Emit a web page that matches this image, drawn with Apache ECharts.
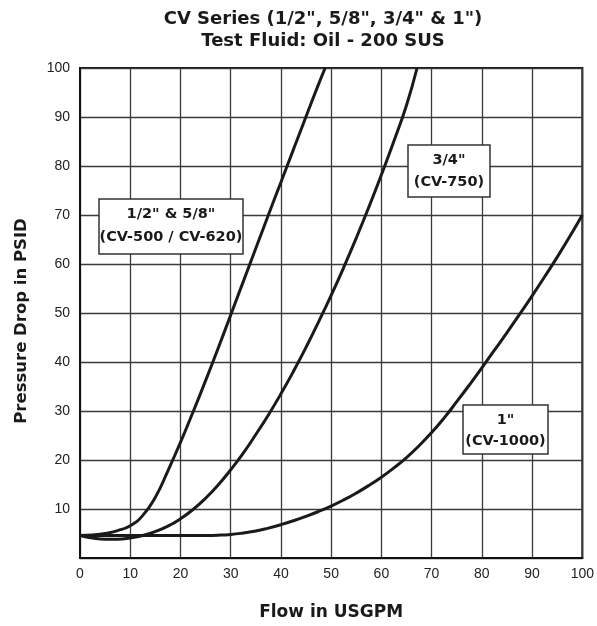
<!DOCTYPE html>
<html>
<head>
<meta charset="utf-8">
<script src="https://cdn.jsdelivr.net/npm/echarts@6/dist/echarts.min.js"></script>
<style>html,body{margin:0;padding:0;background:#fff}#c{width:597px;height:626px}</style>
</head>
<body>
<div id="c"></div>
<script>
// Flow (USGPM) and pressure drop (PSID)
const cv500Flow = [0, 2.5, 5, 7.5, 10, 12.5, 15, 17.5, 20, 22.5, 25, 27.5, 30, 32.5, 35, 37.5, 40, 42.5, 45, 47.5, 48.8];
const cv500Psid = [4.6, 4.7, 5.0, 5.6, 6.6, 8.7, 12.4, 17.8, 23.6, 29.8, 36.2, 42.8, 49.6, 56.4, 63.2, 70.0, 76.7, 83.4, 90.1, 96.7, 100];

const cv750Flow = [0, 2.5, 5, 7.5, 10, 12.5, 15, 17.5, 20, 22.5, 25, 27.5, 30, 32.5, 35, 37.5, 40, 42.5, 45, 47.5, 50, 52.5, 55, 57.5, 60, 62.5, 65, 67.1];
const cv750Psid = [4.6, 4.1, 3.85, 3.85, 4.1, 4.6, 5.4, 6.5, 8.0, 9.9, 12.2, 14.9, 18.0, 21.4, 25.2, 29.2, 33.5, 38.1, 43.0, 48.2, 53.6, 59.3, 65.3, 71.6, 78.2, 85.1, 92.4, 100];

const cv1000Flow = [0, 5, 10, 15, 20, 25, 27.5, 30, 32.5, 35, 37.5, 40, 42.5, 45, 47.5, 50, 52.5, 55, 57.5, 60, 62.5, 65, 67.5, 70, 72.5, 75, 77.5, 80, 82.5, 85, 87.5, 90, 92.5, 95, 97.5, 100];
const cv1000Psid = [4.6, 4.6, 4.6, 4.6, 4.6, 4.6, 4.65, 4.8, 5.1, 5.5, 6.1, 6.8, 7.6, 8.5, 9.5, 10.6, 11.85, 13.25, 14.8, 16.5, 18.4, 20.5, 22.9, 25.6, 28.6, 31.9, 35.3, 38.8, 42.4, 46.0, 49.7, 53.5, 57.4, 61.4, 65.6, 70];

const titleLines = ['CV Series (1/2", 5/8", 3/4" & 1")', 'Test Fluid: Oil - 200 SUS'];
const xName = 'Flow in USGPM';
const yName = 'Pressure Drop in PSID';
const labels = [
  ['1/2" & 5/8"', '(CV-500 / CV-620)'],
  ['3/4"', '(CV-750)'],
  ['1"', '(CV-1000)']
];

function pairs(xs, ys) { return xs.map((x, i) => [x, ys[i]]); }

const chart = echarts.init(document.getElementById('c'), null, {renderer: 'canvas'});
const lineSeries = (name, xs, ys) => ({
  name, type: 'line', data: pairs(xs, ys), showSymbol: false, symbol: 'none',
  smooth: 0.5, z: 3,
  lineStyle: {color: '#1a1a1a', width: 3}
});
const boldFam = '"DejaVu Sans", "Liberation Sans", Arial, sans-serif';
const labelFont = 'bold 14.5px ' + boldFam;
function box(x, y, w, h, lines, l1, l2) {
  return [
    {type: 'rect', shape: {x, y, width: w, height: h}, style: {fill: '#fff', stroke: '#333', lineWidth: 1.5}, z: 10},
    {type: 'text', x: x + w / 2, y: l1, style: {text: lines[0], font: labelFont, fill: '#1a1a1a', align: 'center', verticalAlign: 'middle'}, z: 11},
    {type: 'text', x: x + w / 2, y: l2, style: {text: lines[1], font: labelFont, fill: '#1a1a1a', align: 'center', verticalAlign: 'middle'}, z: 11}
  ];
}

chart.setOption({
  animation: false,
  backgroundColor: '#fff',
  grid: {left: 80, right: 13, top: 68, bottom: 65, show: true, borderColor: '#111', borderWidth: 2},
  xAxis: {
    type: 'value', min: 0, max: 100, interval: 10,
    name: xName, nameLocation: 'middle', nameGap: 46,
    nameTextStyle: {fontFamily: boldFam, fontWeight: 'bold', fontSize: 17, color: '#1a1a1a'},
    axisLine: {lineStyle: {color: '#111', width: 2}},
    axisTick: {show: false},
    axisLabel: {fontFamily: '"Liberation Sans Narrow", "Liberation Sans", Arial', fontSize: 14, color: '#222', margin: 9},
    splitLine: {show: true, lineStyle: {color: '#3a3a3a', width: 1.3}}
  },
  yAxis: {
    type: 'value', min: 0, max: 100, interval: 10,
    name: yName, nameLocation: 'middle', nameGap: 50, nameRotate: 90,
    nameTextStyle: {fontFamily: boldFam, fontWeight: 'bold', fontSize: 16.5, color: '#1a1a1a', padding: [0, 16, 0, 0]},
    axisLine: {lineStyle: {color: '#111', width: 2}},
    axisTick: {show: false},
    axisLabel: {fontFamily: '"Liberation Sans Narrow", "Liberation Sans", Arial', fontSize: 14, color: '#222', margin: 10,
      formatter: v => (v === 0 ? '' : String(v))},
    splitLine: {show: true, lineStyle: {color: '#3a3a3a', width: 1.3}}
  },
  title: {
    text: titleLines.join('\n'), left: 318, top: 3, textAlign: 'center',
    textStyle: {fontFamily: boldFam, fontWeight: 'bold', fontSize: 18, lineHeight: 22, color: '#1a1a1a'}
  },
  series: [
    lineSeries('CV-500 / CV-620', cv500Flow, cv500Psid),
    lineSeries('CV-750', cv750Flow, cv750Psid),
    lineSeries('CV-1000', cv1000Flow, cv1000Psid)
  ],
  graphic: [].concat(
    box(99, 199, 144, 55, labels[0], 214, 237),
    box(408, 145, 82, 52, labels[1], 160, 182),
    box(463, 405, 85, 49, labels[2], 420, 441)
  )
});
</script>
</body>
</html>
